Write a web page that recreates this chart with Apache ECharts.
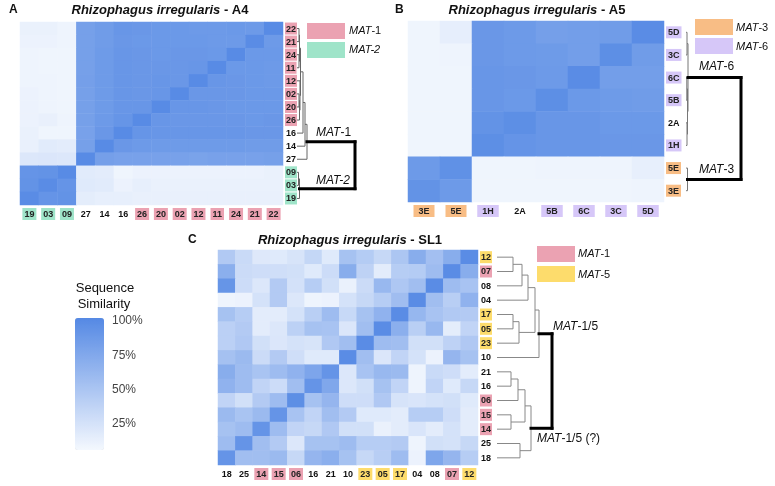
<!DOCTYPE html>
<html><head><meta charset="utf-8">
<script src="https://cdn.jsdelivr.net/npm/echarts@6/dist/echarts.min.js"></script>
<style>html,body{margin:0;padding:0;background:#fff}#c{width:775px;height:486px}</style>
</head><body><div id="c"></div>
<script>
// ---------- DATA ----------
const rowsA = ['22','21','24','11','12','02','20','26','16','14','27','09','03','19'];
const colsA = ['19','03','09','27','14','16','26','20','02','12','11','24','21','22'];
const valsA = [
  [6,6,4, 79,83,88,87,86,86,85,85,86,85,98],
  [5,5,4, 79,83,87,86,86,86,86,85,85,97,85],
  [4,3,3, 79,84,88,87,86,87,87,86,98,86,86],
  [4,3,3, 79,84,88,87,87,87,88,98,86,86,85],
  [4,4,3, 80,84,88,87,88,87,98,88,87,86,85],
  [5,4,3, 79,84,88,87,88,98,87,87,87,86,86],
  [5,4,3, 79,84,88,88,98,88,88,87,86,86,86],
  [5,7,4, 79,85,89,98,88,87,87,87,87,86,87],
  [6,3,3, 78,87,98,89,88,88,88,88,88,87,87],
  [7,12,11,79,98,87,85,84,84,84,84,84,83,83],
  [15,16,15,98,80,78,78,78,78,77,78,78,78,79],
  [90,91,98,12,11,3,5,5,5,5,5,5,5,6],
  [91,97,90,13,12,5,8,6,6,6,6,6,6,6],
  [97,90,91,10,8,8,7,7,7,7,7,7,7,7]
];
const rowsB = ['5D','3C','6C','5B','2A','1H','5E','3E'];
const colsB = ['3E','5E','1H','2A','5B','6C','3C','5D'];
const valsB = [
  [3,9, 87,85,80,81,83,97],
  [3,4, 87,85,84,81,95,83],
  [3,3, 88,87,85,97,81,81],
  [3,3, 88,86,95,86,84,83],
  [3,3, 91,95,88,88,86,86],
  [3,3, 95,90,88,88,87,87],
  [85,93,3,3,4,4,4,8],
  [91,85,3,3,3,3,3,4]
];
const rowsC = ['12','07','08','04','17','05','23','10','21','16','06','15','14','25','18'];
const colsC = ['18','25','14','15','06','16','21','10','23','05','17','04','08','07','12'];
const valsC = [
  [42,27,14,13,18,30,13,49,40,29,45,68,51,68,97],
  [66,26,24,23,22,13,25,68,34,11,39,40,54,97,68],
  [89,25,15,41,21,39,22,6,26,58,44,52,97,54,48],
  [4,5,20,41,15,4,5,20,29,39,53,97,52,38,63],
  [49,39,11,11,20,37,54,28,49,63,97,59,48,42,41],
  [36,41,11,15,35,49,48,16,52,97,66,37,58,10,32],
  [36,43,22,16,20,18,43,52,97,54,52,22,22,34,43],
  [50,56,26,41,23,13,13,97,52,16,32,20,5,60,49],
  [68,54,47,54,63,75,90,15,48,58,56,4,27,24,11],
  [63,54,32,25,52,90,73,15,22,49,32,4,32,13,29],
  [32,22,41,54,95,49,60,24,24,43,19,17,20,22,13],
  [56,47,56,90,48,32,52,41,13,13,11,39,39,24,11],
  [49,54,90,54,32,29,43,22,22,6,11,17,11,20,11],
  [54,90,52,41,15,49,49,54,39,39,41,4,22,20,29],
  [90,52,52,56,29,60,66,49,29,38,54,5,74,60,39]
];
// dendrogram merges: [childA, childB, height]; strings = leaves, numbers = earlier merge index
const treeA = [['22','21',2],['24','11',2],[0,1,2.5],['02','20',2],[3,'26',2.5],['12',4,3],[2,5,3.5],[6,'16',6],[7,'14',8],[8,'27',10],['09','03',1.5],[10,'19',2.5],[9,11,58]];
const treeB = [['5D','3C',1],['6C','5B',0.8],['2A','1H',1],[1,2,1.5],[0,3,2],['5E','3E',1.5],[4,5,55]];
const treeC = [['12','07',16],[0,'08',25],[1,'04',31],['17','05',16],[3,'23',22],[2,4,38],[5,'10',42],['21','16',14],[7,'06',21],['15','14',14],[8,9,28],['25','18',23],[10,11,34],[6,12,55]];
// mating-type groups
const groups = {
  m1: ['A:22','A:21','A:24','A:11','A:12','A:02','A:20','A:26','C:07','C:06','C:15','C:14'],
  m2: ['A:09','A:03','A:19'],
  m3: ['B:5E','B:3E'],
  m5: ['C:12','C:17','C:05','C:23'],
  m6: ['B:5D','B:3C','B:6C','B:5B','B:1H']
};
const groupColors = {m1:'#eba2b2', m2:'#9fe4c9', m3:'#f8bd85', m5:'#fddc6c', m6:'#d6c7f8'};
const colorbarTicks = [0, 25, 50, 75, 100];

// ---------- BUILD ----------
const FONT = 'Liberation Sans, Arial, Helvetica, sans-serif';
function heatData(vals){const d=[];vals.forEach((r,i)=>r.forEach((v,j)=>d.push([j,i,v])));return d;}
function segs(rows, tree){
  const nodes=[], out=[];
  const pos = l => typeof l==='string' ? {x:0,y:rows.indexOf(l)} : nodes[l];
  tree.forEach(([a,b,h],i)=>{
    const A=pos(a), B=pos(b), t = i===tree.length-1 ? 1 : 0;
    out.push([A.x,A.y,h,A.y,t],[B.x,B.y,h,B.y,t],[h,A.y,h,B.y,t]);
    nodes.push({x:h,y:(A.y+B.y)/2});
  });
  return out;
}
function rich(pad){
  const r = {n:{fontSize:9,fontWeight:'bold',color:'#111',fontFamily:FONT,padding:pad}};
  Object.keys(groupColors).forEach(k=>{r[k]={fontSize:9,fontWeight:'bold',color:'#222',fontFamily:FONT,backgroundColor:groupColors[k],padding:pad};});
  return r;
}
function fmt(panel){return v=>{for(const k in groups){if(groups[k].includes(panel+':'+v))return '{'+k+'|'+v+'}';}return '{n|'+v+'}';};}

const grids = [
  {left:20, top:22, width:263, height:183},
  {left:297, top:22, width:58, height:183},
  {left:408, top:21, width:256, height:181},
  {left:686, top:21, width:55, height:181},
  {left:218, top:250, width:260, height:215},
  {left:497, top:250, width:55, height:215},
  {left:75, top:321, width:29, height:137}
];
function heatAxes(gi, panel, cols, rows, padX, padY){
  return {
    x:{type:'category',gridIndex:gi,data:cols,axisLine:{show:false},axisTick:{show:false},splitLine:{show:false},
       axisLabel:{margin:3,formatter:fmt(panel),rich:rich(padX),interval:0}},
    y:{type:'category',gridIndex:gi,data:rows,inverse:true,position:'right',axisLine:{show:false},axisTick:{show:false},splitLine:{show:false},
       axisLabel:{margin:2,formatter:fmt(panel),rich:rich(padY),interval:0}}
  };
}
function dendAxes(gi, n, maxH){
  return {x:{type:'value',gridIndex:gi,min:0,max:maxH,show:false},
          y:{type:'value',gridIndex:gi,min:-0.5,max:n-0.5,inverse:true,show:false}};
}
const hA=heatAxes(0,'A',colsA,rowsA,[2,2,1,2],[2,1,1,1]);
const dA=dendAxes(1,rowsA.length,treeA[treeA.length-1][2]);
const hB=heatAxes(2,'B',colsB,rowsB,[2,5,1,5],[2,2,1,2]);
const dB=dendAxes(3,rowsB.length,treeB[treeB.length-1][2]);
const hC=heatAxes(4,'C',colsC,rowsC,[2,2,1,2],[2,1,1,1]);
const dC=dendAxes(5,rowsC.length,treeC[treeC.length-1][2]);
const cbX={type:'value',gridIndex:6,show:false,min:0,max:1};
const cbY={type:'value',gridIndex:6,min:0,max:100,interval:25,position:'right',axisLine:{show:false},axisTick:{show:false},splitLine:{show:false},
  axisLabel:{margin:8,color:'#444',fontSize:12,fontFamily:FONT,formatter:v=>v===0?'':v+'%'}};

function dendSeries(gi, data, col){
  return {type:'custom',xAxisIndex:gi,yAxisIndex:gi,data:data,silent:true,encode:{x:[0,2],y:[1,3]},
    renderItem:(p,api)=>{
      const a=api.coord([api.value(0),api.value(1)]), b=api.coord([api.value(2),api.value(3)]);
      const t=api.value(4);
      return {type:'line',shape:{x1:a[0],y1:a[1],x2:b[0],y2:b[1]},
        style:{stroke:t?'#000':col,lineWidth:t?3:1,lineCap:t?'square':'butt'}};
    }};
}
const heatS = (gi,vals)=>({type:'heatmap',xAxisIndex:gi,yAxisIndex:gi,data:heatData(vals),silent:true,itemStyle:{borderWidth:0}});

function title(x,y,tail){return {type:'text',x:x,y:y,style:{text:'{i|Rhizophagus irregularis} - '+tail,rich:{i:{fontStyle:'italic',fontWeight:'bold',fontSize:13,fontFamily:FONT,color:'#111'}},font:'bold 13px '+FONT,fill:'#111',align:'center',verticalAlign:'middle'}};}
function txt(x,y,s,size,opts){return {type:'text',x:x,y:y,style:{text:s,font:(opts&&opts.font)||(size+'px '+FONT),fill:'#111',align:(opts&&opts.align)||'left',verticalAlign:'middle',rich:{i:{fontStyle:'italic',fontSize:size,fontFamily:FONT,color:'#111'}}}};}
function rect(x,y,c){return {type:'rect',shape:{x:x,y:y,width:38,height:16},style:{fill:c}};}

const option = {
  animation:false,
  grid: grids,
  xAxis:[hA.x,dA.x,hB.x,dB.x,hC.x,dC.x,cbX],
  yAxis:[hA.y,dA.y,hB.y,dB.y,hC.y,dC.y,cbY],
  visualMap:{type:'continuous',min:0,max:100,dimension:2,seriesIndex:[0,2,4],calculable:false,
    left:75,top:318,itemWidth:29,itemHeight:132,padding:0,text:null,hoverLink:false,
    inRange:{color:['#f4f8fe','#5589e4']}},
  series:[heatS(0,valsA),dendSeries(1,segs(rowsA,treeA),'#666'),
          heatS(2,valsB),dendSeries(3,segs(rowsB,treeB),'#777'),
          heatS(4,valsC),dendSeries(5,segs(rowsC,treeC),'#888')],
  graphic:[
    txt(9,10,'A',12,{font:'bold 12px '+FONT}), title(160,10,'A4'),
    txt(395,10,'B',12,{font:'bold 12px '+FONT}), title(537,10,'A5'),
    txt(188,240,'C',12,{font:'bold 12px '+FONT}), title(350,240,'SL1'),
    rect(307,23,groupColors.m1), rect(307,42,groupColors.m2),
    txt(349,31,'{i|MAT}-1',11), txt(349,50,'{i|MAT-2}',11),
    rect(695,19,groupColors.m3), rect(695,38,groupColors.m6),
    txt(736,28,'{i|MAT}-3',11), txt(736,47,'{i|MAT}-6',11),
    rect(537,246,groupColors.m1), rect(537,266,groupColors.m5),
    txt(578,254,'{i|MAT}-1',11), txt(578,275,'{i|MAT}-5',11),
    txt(316,133,'{i|MAT}-1',12), txt(316,181,'{i|MAT-2}',12),
    txt(699,67,'{i|MAT}-6',12), txt(699,170,'{i|MAT}-3',12),
    txt(553,327,'{i|MAT}-1/5',12), txt(537,439,'{i|MAT}-1/5 (?)',12),
    txt(105,288,'Sequence',13,{align:'center'}), txt(104,304,'Similarity',13,{align:'center'})
  ]
};
echarts.init(document.getElementById('c')).setOption(option);
</script></body></html>
